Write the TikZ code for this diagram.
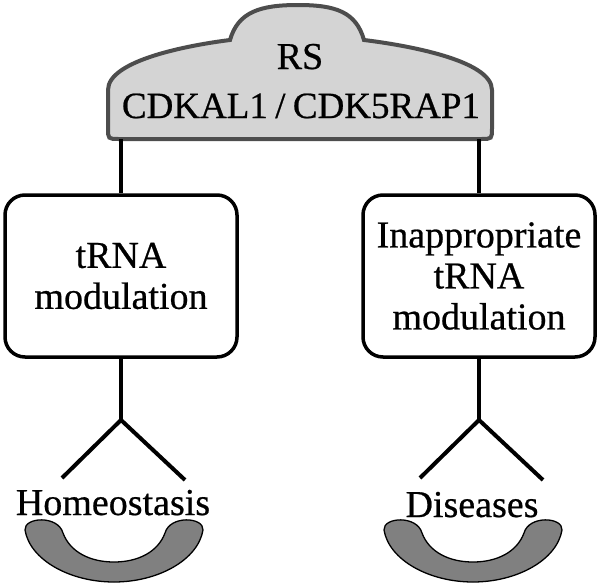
\documentclass[tikz,border=0pt]{standalone}
\usepackage{fontspec}
\setmainfont[FakeBold=0.6]{Liberation Serif}
\definecolor{cloudfill}{HTML}{D4D4D4}
\definecolor{cloudline}{HTML}{4D4D4D}
\definecolor{bowlfill}{HTML}{808080}
\tikzset{
  txt/.style={font=\fontsize{38pt}{41pt}\selectfont, inner sep=0pt},
  modbox/.style={draw, line width=3.5pt, rounded corners=20pt, minimum width=232pt,
    minimum height=162pt, inner sep=0pt, align=center, txt},
  conn/.style={line width=4pt},
  bowl/.pic={
    \draw[fill=bowlfill, line width=1.3pt]
      (-89,530) .. controls (-84,560) and (-44,582) .. (0,582)
      .. controls (44,582) and (84,560) .. (89,530)
      .. controls (90,517) and (56,515) .. (51,533)
      .. controls (44,552) and (24,562) .. (0,562)
      .. controls (-24,562) and (-44,552) .. (-51,533)
      .. controls (-56,515) and (-90,517) .. (-89,530) -- cycle;
  }
}
\begin{document}
\begin{tikzpicture}[x=1pt, y=-1pt]
\useasboundingbox (0,0) rectangle (600,587);
% cloud
\draw[fill=cloudfill, draw=cloudline, line width=4pt]
  (108,128) -- (108,90)
  .. controls (108,60) and (190,45) .. (230,40)
  .. controls (238,12) and (260,5) .. (298,5)
  .. controls (336,5) and (356,12) .. (364,40)
  .. controls (405,45) and (492,60) .. (492,90)
  -- (492,128) .. controls (492,139) .. (481,139)
  -- (119,139) .. controls (108,139) .. (108,128) -- cycle;
\node[txt, anchor=base] (rs) at (300,69) {RS};
\node[txt, font=\fontsize{37pt}{41pt}\selectfont, anchor=base] (cdk) at (301,118)
  {CDKAL1\hspace{0.2em}/\hspace{0.2em}CDK5RAP1};
\coordinate (cl) at (121,139);
\coordinate (cr) at (479,139);
% boxes
\node[modbox] (b1) at (121,276) {tRNA\\modulation};
\node[modbox] (b2) at (479,276) {Inappropriate\\tRNA\\modulation};
\draw[conn] (cl) -- (b1.north);
\draw[conn] (cr) -- (b2.north);
% forks
\coordinate (f1) at (121,420);
\coordinate (f1a) at (62,478);
\coordinate (f1b) at (185,480);
\coordinate (f2) at (479,420);
\coordinate (f2a) at (420,478);
\coordinate (f2b) at (543,480);
\draw[conn] (b1.south) -- (f1);
\draw[conn] (f1a) -- (f1) -- (f1b);
\draw[conn] (b2.south) -- (f2);
\draw[conn] (f2a) -- (f2) -- (f2b);
% labels
\node[txt, anchor=base] (home) at (113,515) {Homeostasis};
\node[txt, anchor=base] (dis) at (472,517) {Diseases};
% bowls
\pic at (114,0) {bowl};
\pic at (473,0) {bowl};
\end{tikzpicture}
\end{document}
